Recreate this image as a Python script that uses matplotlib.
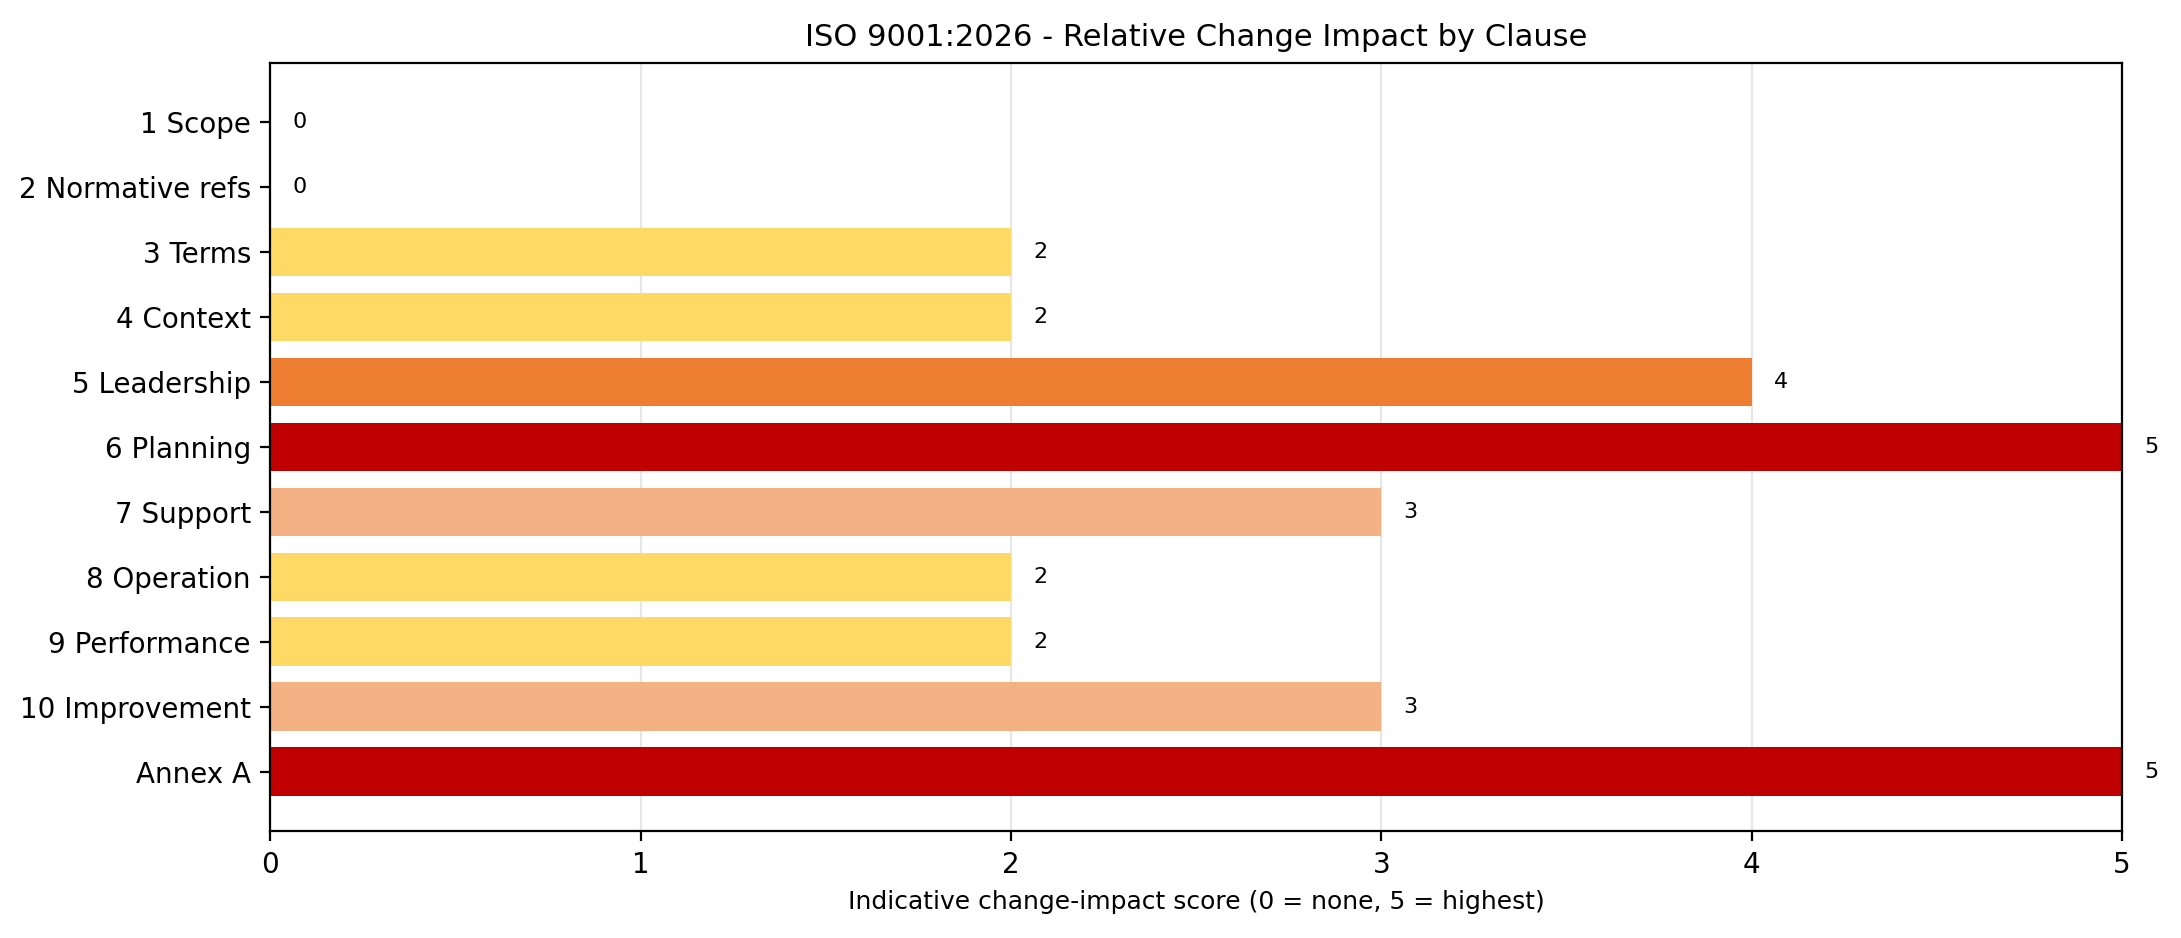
import matplotlib.pyplot as plt

clauses = ["1 Scope", "2 Normative refs", "3 Terms", "4 Context", "5 Leadership",
           "6 Planning", "7 Support", "8 Operation", "9 Performance",
           "10 Improvement", "Annex A"]
scores = [0, 0, 2, 2, 4, 5, 3, 2, 2, 3, 5]

score_colors = {0: "#FFFFFF", 1: "#FFF2CC", 2: "#FFD966", 3: "#F4B183",
                4: "#ED7D31", 5: "#C00000"}

fig, ax = plt.subplots(figsize=(10.905, 4.69), dpi=200)
fig.subplots_adjust(left=0.124, right=0.973, top=0.933, bottom=0.114)

ypos = list(range(len(clauses)))
ax.barh(ypos, scores, color=[score_colors[s] for s in scores], height=0.75, zorder=2)
for y, s in zip(ypos, scores):
    ax.text(s + 0.06, y, str(s), va="center", ha="left", fontsize=8)

ax.set_yticks(ypos)
ax.set_yticklabels(clauses)
ax.invert_yaxis()
ax.set_xlim(0, 5)
ax.grid(axis="x", alpha=0.3, zorder=0)
ax.set_xlabel("Indicative change-impact score (0 = none, 5 = highest)", fontsize=9)
ax.set_title("ISO 9001:2026 - Relative Change Impact by Clause", fontsize=11)

fig.savefig("out.png", dpi=200)
